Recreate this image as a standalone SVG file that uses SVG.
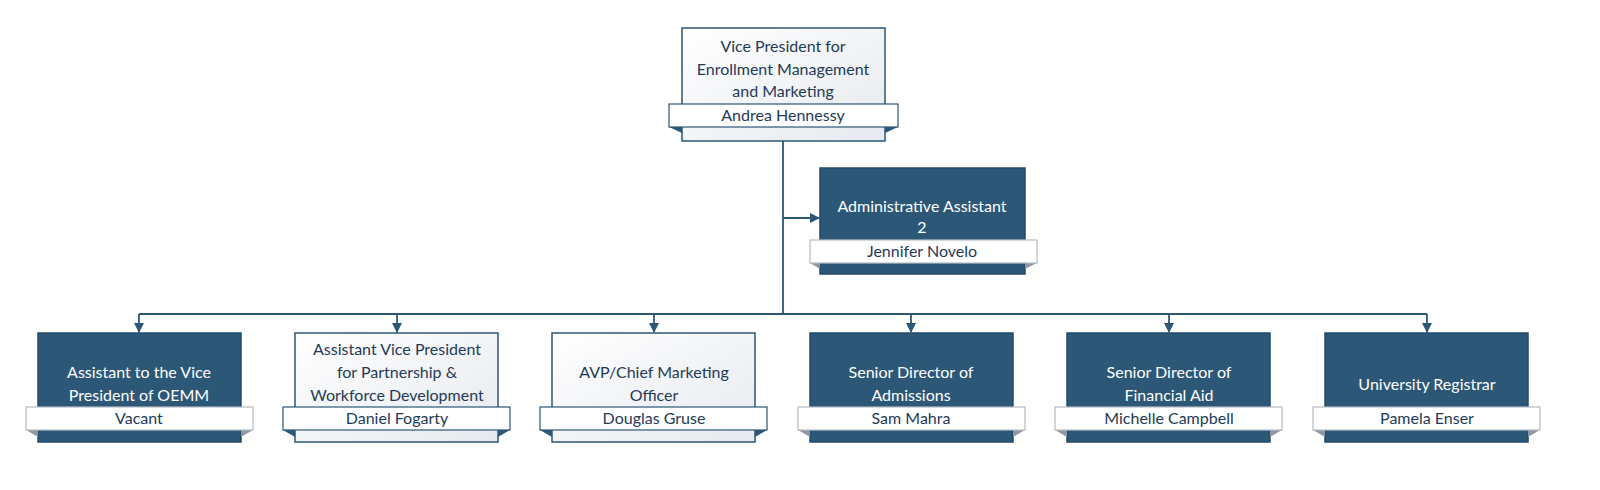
<svg xmlns="http://www.w3.org/2000/svg" width="1600" height="490" viewBox="0 0 1600 490">
<defs>
<linearGradient id="lg" x1="0" y1="0" x2="1" y2="1"><stop offset="0" stop-color="#ffffff"/><stop offset="1" stop-color="#e6e9ee"/></linearGradient>
<marker id="ar" markerWidth="10" markerHeight="10" refX="9" refY="5" orient="auto" markerUnits="userSpaceOnUse"><path d="M0,0 L10,5 L0,10 Z" fill="#2c5777"/></marker>
</defs>
<style>
.dark{fill:#2c5777;stroke:#22496a;stroke-width:1.5}
.light{fill:url(#lg);stroke:#2c5777;stroke-width:1.5}
.bandD{fill:#fff;stroke:#b5bcc4;stroke-width:1.2}
.bandL{fill:#fff;stroke:#2c5777;stroke-width:1.2}
.foldD{fill:#8f98a2}
.foldL{fill:#2c5777}
text{font-family:Lato,"Open Sans","Liberation Sans",sans-serif;font-size:16px;text-anchor:middle}
.tw{fill:#ffffff}
.tb{fill:#1f3b57}
.c{fill:none;stroke:#2c5777;stroke-width:1.8}
</style>
<g id="connectors">
<path class="c" d="M783,141 V314"/>
<path class="c" d="M783,218 H819" marker-end="url(#ar)"/>
<path class="c" d="M139,314 H1427"/>
<path class="c" d="M139,314 V332" marker-end="url(#ar)"/>
<path class="c" d="M397,314 V332" marker-end="url(#ar)"/>
<path class="c" d="M654,314 V332" marker-end="url(#ar)"/>
<path class="c" d="M911,314 V332" marker-end="url(#ar)"/>
<path class="c" d="M1169,314 V332" marker-end="url(#ar)"/>
<path class="c" d="M1427,314 V332" marker-end="url(#ar)"/>
</g>
<g id="vp">
<rect class="light" x="682" y="28" width="203" height="113"/>
<polygon class="foldL" points="669,127 682,127 682,133"/><polygon class="foldL" points="898,127 885,127 885,133"/>
<rect class="bandL" x="669" y="104" width="229" height="23"/>
<text class="tb" x="783" y="52">Vice President for</text>
<text class="tb" x="783" y="75">Enrollment Management</text>
<text class="tb" x="783" y="97">and Marketing</text>
<text class="tb" x="783" y="121">Andrea Hennessy</text>
</g>
<g id="admin">
<rect class="dark" x="820" y="168" width="205" height="106"/>
<polygon class="foldD" points="810,263 820,263 820,269"/><polygon class="foldD" points="1037,263 1025,263 1025,269"/>
<rect class="bandD" x="810" y="240" width="227" height="23"/>
<text class="tw" x="922" y="212">Administrative Assistant</text>
<text class="tw" x="922" y="233">2</text>
<text class="tb" x="922" y="257">Jennifer Novelo</text>
</g>
<g id="n1">
<rect class="dark" x="38" y="333" width="203" height="109"/>
<polygon class="foldD" points="26,430 38,430 38,437"/><polygon class="foldD" points="253,430 241,430 241,437"/>
<rect class="bandD" x="26" y="407" width="227" height="23"/>
<text class="tw" x="139" y="378">Assistant to the Vice</text>
<text class="tw" x="139" y="401">President of OEMM</text>
<text class="tb" x="139" y="424">Vacant</text>
</g>
<g id="n2">
<rect class="light" x="295" y="333" width="203" height="109"/>
<polygon class="foldL" points="283,430 295,430 295,437"/><polygon class="foldL" points="510,430 498,430 498,437"/>
<rect class="bandL" x="283" y="407" width="227" height="23"/>
<text class="tb" x="397" y="355">Assistant Vice President</text>
<text class="tb" x="397" y="378">for Partnership &amp;</text>
<text class="tb" x="397" y="401">Workforce Development</text>
<text class="tb" x="397" y="424">Daniel Fogarty</text>
</g>
<g id="n3">
<rect class="light" x="552" y="333" width="203" height="109"/>
<polygon class="foldL" points="540,430 552,430 552,437"/><polygon class="foldL" points="767,430 755,430 755,437"/>
<rect class="bandL" x="540" y="407" width="227" height="23"/>
<text class="tb" x="654" y="378">AVP/Chief Marketing</text>
<text class="tb" x="654" y="401">Officer</text>
<text class="tb" x="654" y="424">Douglas Gruse</text>
</g>
<g id="n4">
<rect class="dark" x="810" y="333" width="203" height="109"/>
<polygon class="foldD" points="798,430 810,430 810,437"/><polygon class="foldD" points="1025,430 1013,430 1013,437"/>
<rect class="bandD" x="798" y="407" width="227" height="23"/>
<text class="tw" x="911" y="378">Senior Director of</text>
<text class="tw" x="911" y="401">Admissions</text>
<text class="tb" x="911" y="424">Sam Mahra</text>
</g>
<g id="n5">
<rect class="dark" x="1067" y="333" width="203" height="109"/>
<polygon class="foldD" points="1055,430 1067,430 1067,437"/><polygon class="foldD" points="1282,430 1270,430 1270,437"/>
<rect class="bandD" x="1055" y="407" width="227" height="23"/>
<text class="tw" x="1169" y="378">Senior Director of</text>
<text class="tw" x="1169" y="401">Financial Aid</text>
<text class="tb" x="1169" y="424">Michelle Campbell</text>
</g>
<g id="n6">
<rect class="dark" x="1325" y="333" width="203" height="109"/>
<polygon class="foldD" points="1313,430 1325,430 1325,437"/><polygon class="foldD" points="1540,430 1528,430 1528,437"/>
<rect class="bandD" x="1313" y="407" width="227" height="23"/>
<text class="tw" x="1427" y="390">University Registrar</text>
<text class="tb" x="1427" y="424">Pamela Enser</text>
</g>
</svg>
